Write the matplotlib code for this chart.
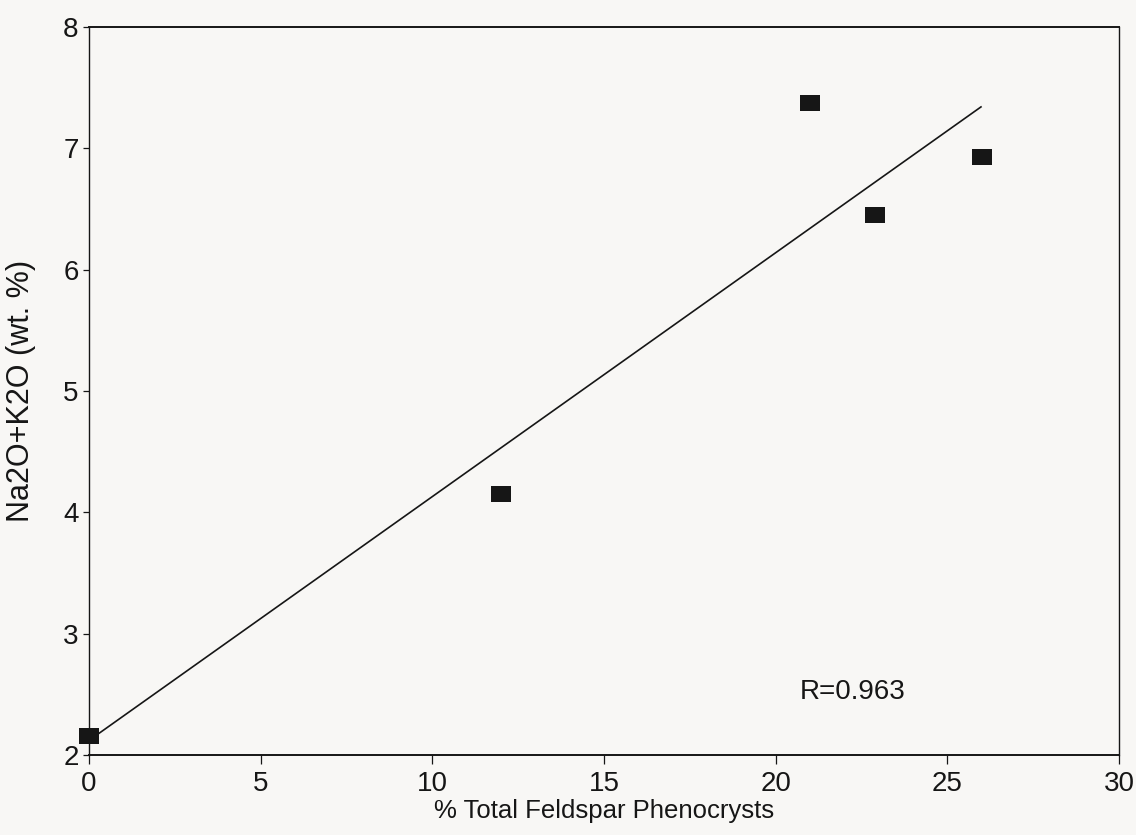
import numpy as np
import matplotlib
matplotlib.use("Agg")
import matplotlib.pyplot as plt
from matplotlib import font_manager as fm

# ---- data ----
feldspar_pct = [0.0, 12.0, 21.0, 22.9, 26.0]
alkali_wt = [2.16, 4.15, 7.37, 6.45, 6.93]
r_label = "R=0.963"
x_ticks = [0, 5, 10, 15, 20, 25, 30]
y_ticks = [2, 3, 4, 5, 6, 7, 8]
x_label = "% Total Feldspar Phenocrysts"
y_label = "Na2O+K2O (wt. %)"

names = {f.name for f in fm.fontManager.ttflist}
narrow = "Liberation Sans Narrow" if "Liberation Sans Narrow" in names else "Liberation Sans"
sans = "Liberation Sans"

W, H = 1136, 835
paper = "#f8f7f5"
ink = "#161616"

fig = plt.figure(figsize=(W / 100, H / 100), dpi=100, facecolor=paper)

L, R, T, B = 89, 1119, 27, 755
ax = fig.add_axes([L / W, 1 - B / H, (R - L) / W, (B - T) / H])
ax.set_facecolor("none")

# regression line through the points
slope, intercept = np.polyfit(feldspar_pct, alkali_wt, 1)
fit_x = np.array([min(feldspar_pct), max(feldspar_pct)])
ax.plot(fit_x, slope * fit_x + intercept, color=ink, lw=1.2, zorder=2,
        solid_capstyle="butt")

rect = [(-1, -0.78), (1, -0.78), (1, 0.78), (-1, 0.78), (-1, -0.78)]
ax.plot(feldspar_pct, alkali_wt, linestyle="none", marker=rect,
        markersize=14.5, color=ink, markeredgewidth=0, zorder=3, clip_on=False)

ax.text(22.25, 2.52, r_label, family=sans, fontsize=20, color=ink,
        ha="center", va="center")

ax.set_xlim(0, 30)
ax.set_ylim(2, 8)
ax.set_xticks(x_ticks)
ax.set_yticks(y_ticks)
ax.set_xticklabels([str(v) for v in x_ticks], family=narrow, fontsize=20, color=ink)
ax.set_yticklabels([str(v) for v in y_ticks], family=narrow, fontsize=20, color=ink)
ax.tick_params(axis="x", direction="out", length=6.5, width=0.9, pad=5, colors=ink)
ax.tick_params(axis="y", direction="out", length=4.5, width=0.9, pad=3, colors=ink)

for side, lw in (("top", 1.4), ("bottom", 1.4), ("left", 1.0), ("right", 1.0)):
    ax.spines[side].set_linewidth(lw)
    ax.spines[side].set_color(ink)

ax.set_xlabel(x_label, family=sans, fontsize=18.5, color=ink)
ax.xaxis.set_label_coords(0.5, (B - 799) / (B - T))
ax.set_ylabel(y_label, family=sans, fontsize=22, color=ink)
ax.yaxis.set_label_coords((36 - L) / (R - L), 0.5)

fig.savefig("out.png", dpi=100, facecolor=paper)
